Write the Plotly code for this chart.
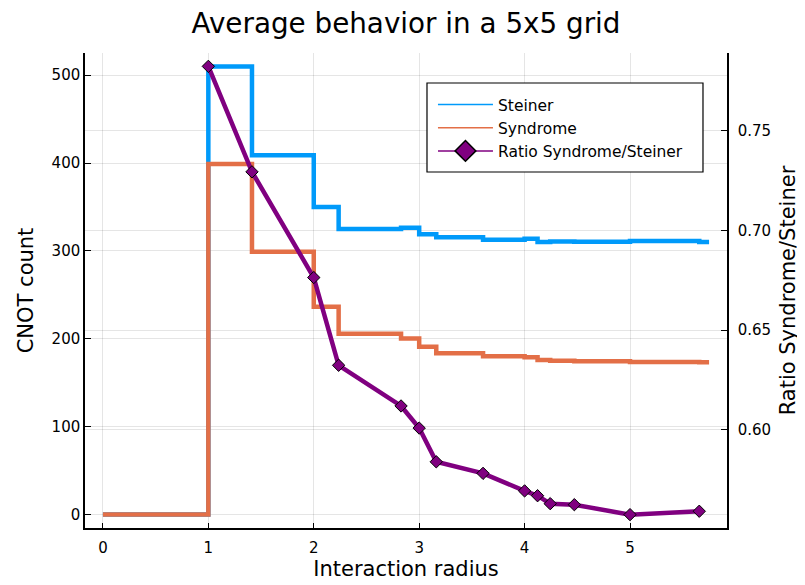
import plotly.graph_objects as go

# ---- data ----
radius = [0, 1, 1.414, 2, 2.236, 2.828, 3, 3.162, 3.606, 4, 4.123, 4.243, 4.472, 5, 5.657]
steiner = [0, 510, 409, 350, 325, 326.5, 319, 315.5, 312.8, 313.8, 310.3, 310.8, 310.4, 311.2, 310.2]
syndrome = [0, 399, 299, 236.5, 205.7, 200.5, 191, 183.7, 180.3, 179, 176, 175, 174.6, 173.5, 173.2]
step_end = 5.75

ratio_radius = [1, 1.414, 2, 2.236, 2.828, 3, 3.162, 3.606, 4, 4.123, 4.243, 4.472, 5, 5.657]
ratio = [0.7823, 0.7294, 0.6764, 0.6324, 0.6120, 0.6009, 0.5840, 0.5782, 0.5694,
         0.5670, 0.5630, 0.5625, 0.5575, 0.5592]

x_ticks = [0, 1, 2, 3, 4, 5]
y_ticks = [0, 100, 200, 300, 400, 500]
y2_ticks = [0.60, 0.65, 0.70, 0.75]
y2_ticklabels = ["0.60", "0.65", "0.70", "0.75"]

BLUE = "#009AFA"
ORANGE = "#E36F47"
PURPLE = "#800080"
FONT = "DejaVu Sans"
GRID = "rgba(0,0,0,0.1)"

# the page body adds an 8px offset; the figure is sized to fill the rest
W, H = 797, 577

fig = go.Figure()

fig.add_trace(go.Scatter(
    x=radius + [step_end], y=steiner + [steiner[-1]], mode="lines",
    line=dict(color=BLUE, width=4.5, shape="hv"), name="Steiner", showlegend=False,
))
fig.add_trace(go.Scatter(
    x=radius + [step_end], y=syndrome + [syndrome[-1]], mode="lines",
    line=dict(color=ORANGE, width=4.5, shape="hv"), name="Syndrome", showlegend=False,
))
fig.add_trace(go.Scatter(
    x=ratio_radius, y=ratio, mode="lines+markers", yaxis="y2",
    line=dict(color=PURPLE, width=4.5),
    marker=dict(symbol="diamond", size=9.5, color=PURPLE, line=dict(color="black", width=1)),
    name="Ratio Syndrome/Steiner", showlegend=False,
))

# legend-only entries (thin lines as in the reference legend)
fig.add_trace(go.Scatter(x=[None], y=[None], mode="lines", line=dict(color=BLUE, width=1.5),
                         name="Steiner"))
fig.add_trace(go.Scatter(x=[None], y=[None], mode="lines", line=dict(color=ORANGE, width=1.5),
                         name="Syndrome"))
fig.add_trace(go.Scatter(x=[None], y=[None], mode="lines+markers", yaxis="y2",
                         line=dict(color=PURPLE, width=1.5),
                         marker=dict(symbol="diamond", size=16, color=PURPLE,
                                     line=dict(color="black", width=1.5)),
                         name="Ratio Syndrome/Steiner"))

fig.update_layout(
    width=W, height=H,
    margin=dict(l=77, r=78, t=45, b=57, autoexpand=False),
    paper_bgcolor="white", plot_bgcolor="white",
    font=dict(family=FONT, color="black"),
    title=dict(text="Average behavior in a 5x5 grid", x=0.5, xref="paper",
               y=1 - 15 / H, yanchor="middle", font=dict(size=27.8, family=FONT)),
    xaxis=dict(
        range=[-0.17, 5.92], tickvals=x_ticks, ticks="inside", ticklen=5, tickcolor="black",
        showline=True, linecolor="black", linewidth=1.5, mirror=False,
        showgrid=True, gridcolor=GRID, gridwidth=1, zeroline=False,
        tickfont=dict(size=15), ticklabelstandoff=5, automargin=False,
        title=dict(text="Interaction radius", font=dict(size=21), standoff=3),
    ),
    yaxis=dict(
        range=[-15.3, 525.3], tickvals=y_ticks, ticks="inside", ticklen=6, tickcolor="black",
        showline=True, linecolor="black", linewidth=1.5, mirror=False,
        showgrid=True, gridcolor=GRID, gridwidth=1, zeroline=False,
        tickfont=dict(size=15), ticklabelstandoff=0, automargin=False,
        title=dict(text="CNOT count", font=dict(size=21), standoff=12),
    ),
    yaxis2=dict(
        overlaying="y", side="right",
        range=[0.5508, 0.789], tickvals=y2_ticks, ticktext=y2_ticklabels,
        ticks="inside", ticklen=6, tickcolor="black",
        showline=True, linecolor="black", linewidth=1.5,
        showgrid=True, gridcolor=GRID, gridwidth=1, zeroline=False,
        tickfont=dict(size=15), ticklabelstandoff=6, automargin=False,
        title=dict(text="Ratio Syndrome/Steiner", font=dict(size=21), standoff=10),
    ),
    legend=dict(
        x=0.542, y=0.9263, xanchor="left", yanchor="top",
        bgcolor="rgba(0,0,0,0)", borderwidth=0,
        font=dict(size=15.5, family=FONT), itemwidth=55,
        tracegroupgap=4,
    ),
    shapes=[dict(type="rect", xref="paper", yref="paper",
                 x0=0.5327, x1=0.9626, y0=0.7495, y1=0.9368,
                 line=dict(color="black", width=1.2), fillcolor="white", layer="above")],
)

fig.write_html("out.html")
